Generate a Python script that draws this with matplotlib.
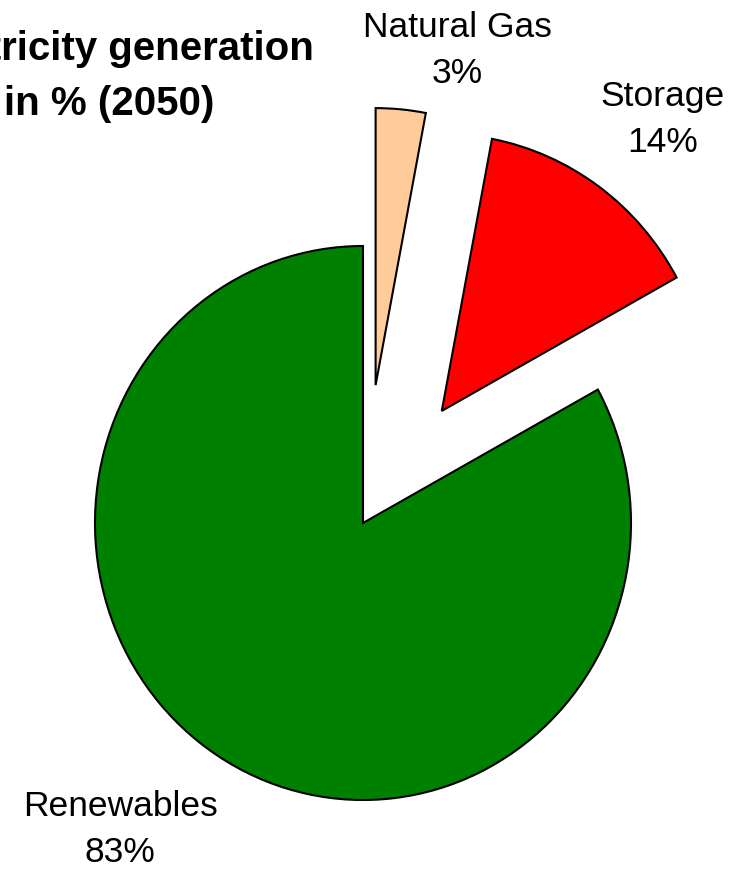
import matplotlib
matplotlib.use('Agg')
import matplotlib.pyplot as plt

plt.rcParams['font.family'] = ['Liberation Sans', 'DejaVu Sans']

# Anteile der Stromerzeugung 2050
labels = ['Renewables', 'Storage', 'Natural Gas']
shares = [83, 14, 3]
colors = ['#008000', '#FF0000', '#FFCC99']
explode = [0, 0.5, 0.5]

fig = plt.figure(figsize=(7.29, 8.69), dpi=100)
ax = fig.add_axes([0, 0, 1, 1])

ax.pie(shares, colors=colors, explode=explode, startangle=90, counterclock=True,
       wedgeprops=dict(edgecolor='black', linewidth=1.5), normalize=True)

# Pixel-Layout: Mitte bei (363, 523), Radius 268 px horizontal, 277 px vertikal
ax.set_aspect('auto')
ax.set_xlim(-363 / 268, (729 - 363) / 268)
ax.set_ylim(-(869 - 523) / 277, 523 / 277)
ax.axis('off')

# Beschriftungen: (x-Mitte, Grundlinie letzte Zeile) in Pixeln
label_pos = {
    'Renewables': (120, 862),
    'Storage': (663, 152),
    'Natural Gas': (457, 83),
}
for name, val in zip(labels, shares):
    px, py = label_pos[name]
    ax.text((px - 363) / 268, (523 - py) / 277, f'{name}\n{val}%',
            ha='center', va='baseline', fontsize=25.5, linespacing=1.5)

fig.text(109 / 729, 1 - 115 / 869, 'Electricity generation\nin % (2050)',
         ha='center', va='baseline', fontsize=29, fontweight='bold',
         linespacing=1.55)

fig.savefig('out.png', dpi=100)
